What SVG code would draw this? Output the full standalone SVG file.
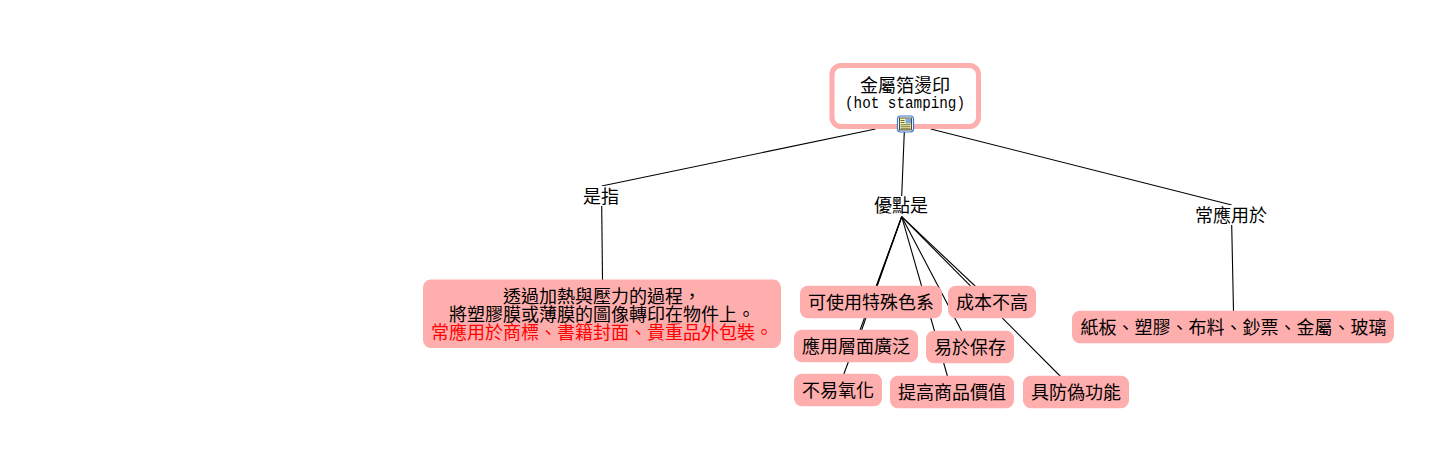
<svg xmlns="http://www.w3.org/2000/svg" width="1439" height="453" viewBox="0 0 1439 453">
<style>
text{font-family:"Noto Sans CJK TC","Noto Sans CJK SC",sans-serif;font-size:18px;fill:#000;text-anchor:middle}
.mono{font-family:"Liberation Mono","DejaVu Sans Mono",monospace;font-size:16px}
.red{fill:#f00}
.box{fill:#ffaeae;stroke:none}
#connectors line{stroke:#000;stroke-width:1.1}
</style>
<rect width="1439" height="453" fill="#fff"/>
<g id="connectors">
<line x1="875.5" y1="129" x2="601.7" y2="186"/>
<line x1="601.7" y1="206" x2="602.5" y2="280"/>
<line x1="904.3" y1="132" x2="901.7" y2="196"/>
<line x1="930.7" y1="129" x2="1231.7" y2="205"/>
<line x1="1231.7" y1="225" x2="1233.5" y2="311"/>
<line x1="901.7" y1="216.7" x2="871" y2="302"/>
<line x1="901.7" y1="216.7" x2="856" y2="346"/>
<line x1="901.7" y1="216.7" x2="838" y2="390"/>
<line x1="901.7" y1="216.7" x2="970" y2="347"/>
<line x1="901.7" y1="216.7" x2="952" y2="392"/>
<line x1="901.7" y1="216.7" x2="992" y2="302"/>
<line x1="901.7" y1="216.7" x2="1076" y2="392"/>
</g>
<g id="root">
<rect x="832" y="65.5" width="146.500" height="61" rx="9" fill="#fff" stroke="#ffaeae" stroke-width="5"/>
<text x="905" y="92">金屬箔燙印</text>
<text class="mono" x="905" y="107.500" textLength="120" lengthAdjust="spacingAndGlyphs">(hot stamping)</text>
<rect x="897.500" y="116" width="16" height="16" rx="3" fill="#fff" stroke="#3a78c8" stroke-width="1.200"/>
<rect x="899.500" y="118" width="12" height="12" fill="#ffffa8" stroke="#222" stroke-width="0.800"/>
<rect x="905.500" y="118.500" width="5.500" height="5" fill="#7fa8d8"/>
<path d="M900.500 120.500h4M900.500 122.500h4M900.500 124.800h10M900.500 126.800h10M900.500 128.800h10" stroke="#222" stroke-width="0.700" fill="none"/>
</g>
<g id="label-shi"><rect x="581" y="186" width="41" height="20" fill="#fff"/><text x="601" y="202.500">是指</text></g>
<g id="label-youdian"><rect x="873" y="196" width="57" height="20" fill="#fff"/><text x="901" y="212">優點是</text></g>
<g id="label-yongyu"><rect x="1194" y="205" width="74" height="20" fill="#fff"/><text x="1231" y="222">常應用於</text></g>
<g id="node-def">
<rect class="box" x="423" y="279.500" width="358" height="68.500" rx="8"/>
<text><tspan x="602" y="303">透過加熱與壓力的過程，</tspan><tspan x="602" y="321">將塑膠膜或薄膜的圖像轉印在物件上。</tspan><tspan class="red" x="602" y="339">常應用於商標、書籍封面、貴重品外包裝。</tspan></text>
</g>
<g id="node-color"><rect class="box" x="800" y="285.700" width="142" height="32.600" rx="8"/><text x="871" y="308.500">可使用特殊色系</text></g>
<g id="node-cost"><rect class="box" x="948" y="285.700" width="88" height="32.600" rx="8"/><text x="992" y="308.500">成本不高</text></g>
<g id="node-wide"><rect class="box" x="794" y="329.700" width="124" height="32.600" rx="8"/><text x="856" y="352.500">應用層面廣泛</text></g>
<g id="node-store"><rect class="box" x="926" y="330.700" width="88" height="32.600" rx="8"/><text x="970" y="353.500">易於保存</text></g>
<g id="node-oxid"><rect class="box" x="794" y="373.700" width="88" height="32.600" rx="8"/><text x="838" y="396.500">不易氧化</text></g>
<g id="node-value"><rect class="box" x="890" y="375.700" width="124" height="32.600" rx="8"/><text x="952" y="398.500">提高商品價值</text></g>
<g id="node-fake"><rect class="box" x="1023" y="375.700" width="106" height="32.600" rx="8"/><text x="1076" y="398.500">具防偽功能</text></g>
<g id="node-use"><rect class="box" x="1072" y="310.700" width="322" height="32.600" rx="8"/><text x="1233.500" y="333.500">紙板、塑膠、布料、鈔票、金屬、玻璃</text></g>
</svg>
